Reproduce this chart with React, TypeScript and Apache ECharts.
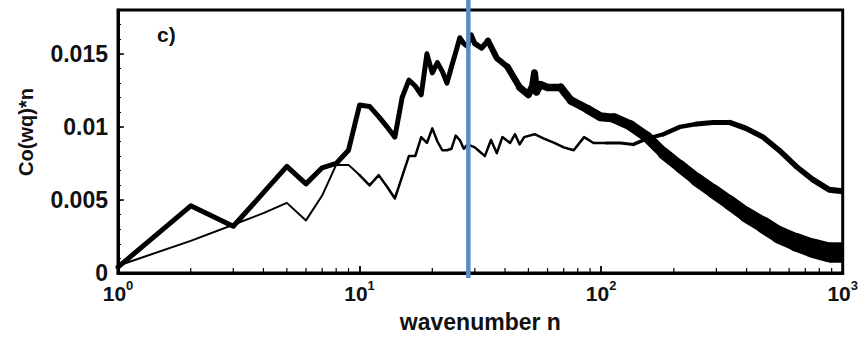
import { useEffect, useRef } from 'react';
import * as echarts from 'echarts';

// ---- data ----
const thickN = [1, 2, 3, 4, 5, 6, 7, 8, 9, 10, 11, 12, 13, 14, 15, 16, 17, 18, 19, 20, 21, 22, 23, 24, 25, 26, 27, 28, 29, 30, 32, 34, 37, 41, 46, 50, 52, 53, 54, 56, 60, 68, 75, 88, 99, 113, 132, 155, 181, 212, 248, 291, 341, 398, 468, 546, 641, 751, 879, 1000];
const thickV = [0.0004, 0.0046, 0.0032, 0.0055, 0.0073, 0.0061, 0.0072, 0.0075, 0.0084, 0.0115, 0.0114, 0.0107, 0.0100, 0.0093, 0.0120, 0.0132, 0.0128, 0.0122, 0.0150, 0.0137, 0.0144, 0.0138, 0.0130, 0.0141, 0.0151, 0.0161, 0.0157, 0.0155, 0.0163, 0.0157, 0.0154, 0.0159, 0.0147, 0.0141, 0.0127, 0.0122, 0.0128, 0.0137, 0.0124, 0.0129, 0.0127, 0.0127, 0.0118, 0.0112, 0.0107, 0.0106, 0.0101, 0.0093, 0.0082, 0.0073, 0.0064, 0.0056, 0.0048, 0.0040, 0.0033, 0.0026, 0.0021, 0.0017, 0.0014, 0.0014];

const thinN = [1, 2, 3, 4, 5, 6, 7, 8, 9, 10, 11, 12, 13, 14, 15, 16, 17, 18, 19, 20, 21, 22, 23, 24, 25, 26, 27, 28, 30, 32, 33, 35, 37, 39, 42, 44, 46, 48, 53, 58, 64, 70, 77, 85, 93, 105, 120, 136, 155, 181, 212, 248, 291, 341, 398, 468, 546, 641, 751, 879, 1000];
const thinV = [0.0005, 0.0022, 0.0033, 0.0041, 0.0048, 0.0036, 0.0053, 0.0074, 0.0074, 0.0067, 0.0060, 0.0067, 0.0059, 0.0051, 0.0066, 0.0080, 0.0080, 0.0093, 0.0089, 0.0099, 0.0090, 0.0084, 0.0084, 0.0085, 0.0094, 0.0091, 0.0085, 0.0088, 0.0086, 0.0082, 0.0080, 0.0091, 0.0082, 0.0093, 0.0089, 0.0095, 0.0088, 0.0093, 0.0095, 0.0092, 0.0089, 0.0086, 0.0084, 0.0093, 0.0089, 0.0089, 0.0089, 0.0088, 0.0092, 0.0095, 0.0100, 0.0102, 0.0103, 0.0103, 0.0099, 0.0093, 0.0084, 0.0073, 0.0064, 0.0057, 0.0056];

const xMinorTicks = [2, 3, 4, 5, 6, 7, 8, 9, 20, 30, 40, 50, 60, 70, 80, 90, 200, 300, 400, 500, 600, 700, 800, 900];
const markerN = 28.2;
const X_MIN = 1;
const X_MAX = 1000;
const Y_MIN = 0;
const Y_MAX = 0.018;

// stroke width anchors (style: emulate the widening noise band), [n, px]
const thickWidthAnchors: [number, number][] = [[1, 5], [28, 5], [50, 7], [100, 9], [200, 12], [400, 15], [1000, 21]];
const thinWidthAnchors: [number, number][] = [[1, 2], [100, 2.5], [150, 3.5], [250, 5], [1000, 6]];

const FONT = '"Liberation Sans", Arial, Helvetica, sans-serif';

function widthAt(anchors: [number, number][], n: number) {
  const ln = Math.log10(n);
  for (let i = 0; i < anchors.length - 1; i++) {
    const [a, wa] = anchors[i];
    const [b, wb] = anchors[i + 1];
    if (n >= a && n <= b) {
      const t = (ln - Math.log10(a)) / (Math.log10(b) - Math.log10(a));
      return wa + (wb - wa) * t;
    }
  }
  return anchors[anchors.length - 1][1];
}

function buildSeries(ns: number[], vs: number[], anchors: [number, number][]) {
  const groups: { w: number; pts: [number, number][] }[] = [];
  for (let i = 0; i < ns.length - 1; i++) {
    const mid = Math.sqrt(ns[i] * ns[i + 1]);
    const w = Math.round(widthAt(anchors, mid) * 2) / 2;
    const last = groups[groups.length - 1];
    if (last && last.w === w) {
      last.pts.push([ns[i + 1], vs[i + 1]]);
    } else {
      groups.push({ w, pts: [[ns[i], vs[i]], [ns[i + 1], vs[i + 1]]] });
    }
  }
  return groups.map((g, gi) => ({
    type: 'line',
    data: g.pts,
    showSymbol: false,
    symbol: 'none',
    clip: true,
    lineStyle: {
      color: '#000',
      width: g.w,
      join: 'round',
      cap: gi === groups.length - 1 ? 'butt' : 'round',
    },
    z: 3,
  }));
}

export default function App() {
  const ref = useRef<HTMLDivElement>(null);
  useEffect(() => {
    if (!ref.current) return;
    const chart = echarts.init(ref.current, undefined, { renderer: 'svg' });

    const lineSeries: any[] = [
      ...buildSeries(thickN, thickV, thickWidthAnchors),
      ...buildSeries(thinN, thinV, thinWidthAnchors),
    ];

    chart.setOption({
      animation: false,
      backgroundColor: '#fff',
      grid: {
        left: 118,
        right: 13,
        top: 10,
        bottom: 60,
        show: true,
        borderColor: '#000',
        borderWidth: 3,
        z: 4,
      },
      xAxis: {
        type: 'log',
        logBase: 10,
        min: X_MIN,
        max: X_MAX,
        z: 6,
        axisLine: { show: true, lineStyle: { color: '#000', width: 3 } },
        axisTick: { show: true, inside: true, length: 7, lineStyle: { color: '#000', width: 1.8 } },
        splitLine: { show: false },
        axisLabel: {
          margin: 6,
          formatter: (v: number) => {
            const e = Math.round(Math.log10(v));
            return `{b|10}{s|${e}}`;
          },
          rich: {
            b: { fontSize: 21, fontWeight: 'bold', fontFamily: FONT, color: '#111', verticalAlign: 'bottom', padding: [4, 0, 0, 0] },
            s: { fontSize: 13, fontWeight: 'bold', fontFamily: FONT, color: '#111', verticalAlign: 'top' },
          },
        },
        name: 'wavenumber n',
        nameLocation: 'middle',
        nameGap: 37,
        nameTextStyle: { fontSize: 23, fontWeight: 'bold', fontFamily: FONT, color: '#111' },
      },
      yAxis: [
        {
          type: 'value',
          min: Y_MIN,
          max: Y_MAX,
          interval: 0.005,
          z: 6,
          axisLine: { show: true, lineStyle: { color: '#000', width: 3 } },
          axisTick: { show: true, inside: true, length: 6, lineStyle: { color: '#000', width: 1.5 } },
          splitLine: { show: false },
          axisLabel: {
            showMaxLabel: false,
            margin: 10,
            fontSize: 23,
            fontWeight: 'bold',
            fontFamily: FONT,
            color: '#111',
            formatter: (v: number) => String(+v.toFixed(3)),
          },
        },
        {
          type: 'value',
          min: Y_MIN,
          max: Y_MAX,
          interval: 0.001,
          position: 'left',
          axisLine: { show: false },
          axisTick: { show: true, inside: true, length: 3, lineStyle: { color: '#000', width: 1 } },
          axisLabel: { show: false },
          splitLine: { show: false },
        },
      ],
      series: [
        ...lineSeries,
        {
          type: 'custom',
          data: xMinorTicks.map((n) => [n, Y_MIN]),
          clip: false,
          silent: true,
          z: 5,
          renderItem: (_p: any, api: any) => {
            const p = api.coord([api.value(0), api.value(1)]);
            return {
              type: 'line',
              shape: { x1: p[0], y1: p[1], x2: p[0], y2: p[1] - 5 },
              style: { stroke: '#000', lineWidth: 1.2 },
            };
          },
        },
        {
          type: 'custom',
          data: [[markerN, Y_MIN]],
          clip: false,
          silent: true,
          z: 10,
          renderItem: (_p: any, api: any) => {
            const bottom = api.coord([api.value(0), Y_MIN]);
            const top = api.coord([api.value(0), Y_MAX]);
            return {
              type: 'line',
              shape: { x1: bottom[0], y1: top[1] - 12, x2: bottom[0], y2: bottom[1] + 5 },
              style: { stroke: '#5b8cc8', lineWidth: 4.5 },
            };
          },
        },
      ],
      graphic: [
        {
          type: 'text',
          x: 26,
          y: 132,
          rotation: Math.PI / 2,
          style: {
            text: 'Co(wq)*n',
            fontSize: 20,
            fontWeight: 'bold',
            fontFamily: FONT,
            fill: '#111',
            align: 'center',
            verticalAlign: 'middle',
          },
        },
        {
          type: 'text',
          x: 157,
          y: 34,
          style: {
            text: 'c)',
            fontSize: 21,
            fontWeight: 'bold',
            fontFamily: FONT,
            fill: '#111',
            align: 'left',
            verticalAlign: 'middle',
          },
        },
      ],
    });
    return () => chart.dispose();
  }, []);
  return (
    <div
      ref={ref}
      style={{ position: 'fixed', left: 0, top: 0, width: 861, height: 338, background: '#fff' }}
    />
  );
}
